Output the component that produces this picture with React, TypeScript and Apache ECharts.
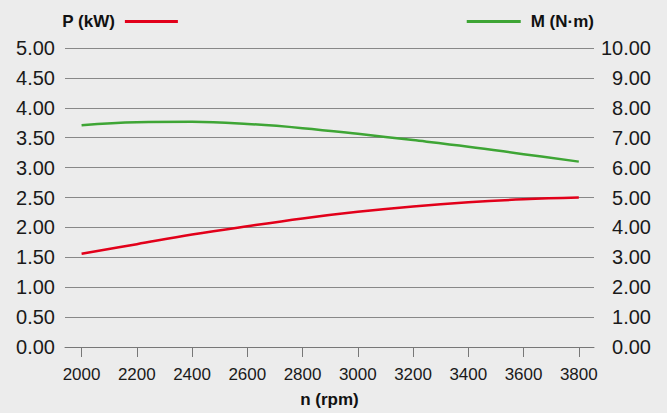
import React, { useEffect, useRef } from "react";
import * as echarts from "echarts";

const rpm = [2000, 2200, 2400, 2600, 2800, 3000, 3200, 3400, 3600, 3800];
const powerKW = [1.56, 1.72, 1.88, 2.02, 2.15, 2.26, 2.35, 2.42, 2.47, 2.5];
const torqueNm = [7.42, 7.52, 7.53, 7.46, 7.32, 7.13, 6.92, 6.7, 6.45, 6.2];
const xTicks = [2000, 2200, 2400, 2600, 2800, 3000, 3200, 3400, 3600, 3800];

const FONT = "'Liberation Sans', Arial, Helvetica, sans-serif";

export default function App() {
  const ref = useRef<HTMLDivElement>(null);
  useEffect(() => {
    document.body.style.margin = "0";
    const chart = echarts.init(ref.current!, null, { renderer: "svg" });
    chart.setOption({
      animation: false,
      backgroundColor: "#ececec",
      textStyle: { fontFamily: FONT },
      grid: { left: 65, right: 73, top: 48, bottom: 60.5, containLabel: false },
      legend: [
        {
          left: 62,
          top: 13,
          padding: 0,
          align: "right",
          data: ["P (kW)"],
          icon: "rect",
          itemWidth: 53,
          itemHeight: 3,
          textStyle: { fontSize: 17, fontWeight: "bold", color: "#111", fontFamily: FONT, padding: [0, 5, 0, 0] },
        },
        {
          right: 73,
          top: 13,
          padding: 0,
          align: "left",
          data: ["M (N·m)"],
          icon: "rect",
          itemWidth: 54,
          itemHeight: 3,
          textStyle: { fontSize: 17, fontWeight: "bold", color: "#111", fontFamily: FONT, padding: [0, 0, 0, 5] },
        },
      ],
      xAxis: {
        type: "value",
        min: 1940,
        max: 3855,
        name: "n (rpm)",
        nameLocation: "middle",
        nameGap: 44,
        nameTextStyle: { fontSize: 17, fontWeight: "bold", color: "#111", fontFamily: FONT },
        axisLine: { show: true, lineStyle: { color: "#777", width: 1 } },
        axisTick: { show: true, length: 10, customValues: xTicks, lineStyle: { color: "#777" } },
        axisLabel: {
          customValues: xTicks,
          fontSize: 17,
          color: "#1a1a1a",
          margin: 19,
          fontFamily: FONT,
          formatter: (v: number) => String(v),
        },
        splitLine: { show: false },
      },
      yAxis: [
        {
          type: "value",
          min: 0,
          max: 5,
          interval: 0.5,
          position: "left",
          axisLine: { show: false },
          axisTick: { show: false },
          axisLabel: {
            fontSize: 20,
            color: "#1a1a1a",
            margin: 10,
            fontFamily: FONT,
            formatter: (v: number) => v.toFixed(2),
          },
          splitLine: { show: true, lineStyle: { color: "#888", width: 1 } },
        },
        {
          type: "value",
          min: 0,
          max: 10,
          interval: 1,
          position: "right",
          axisLine: { show: false },
          axisTick: { show: false },
          axisLabel: {
            fontSize: 20,
            color: "#1a1a1a",
            margin: 57,
            align: "right",
            fontFamily: FONT,
            formatter: (v: number) => v.toFixed(2),
          },
          splitLine: { show: false },
        },
      ],
      series: [
        {
          name: "P (kW)",
          type: "line",
          yAxisIndex: 0,
          smooth: 0.4,
          showSymbol: false,
          symbol: "none",
          data: rpm.map((x, i) => [x, powerKW[i]]),
          lineStyle: { color: "#e2001a", width: 2.5 },
          itemStyle: { color: "#e2001a" },
        },
        {
          name: "M (N·m)",
          type: "line",
          yAxisIndex: 1,
          smooth: 0.4,
          showSymbol: false,
          symbol: "none",
          data: rpm.map((x, i) => [x, torqueNm[i]]),
          lineStyle: { color: "#3ea535", width: 2.5 },
          itemStyle: { color: "#3ea535" },
        },
      ],
    });
    return () => chart.dispose();
  }, []);
  return <div ref={ref} style={{ width: 667, height: 413 }} />;
}
